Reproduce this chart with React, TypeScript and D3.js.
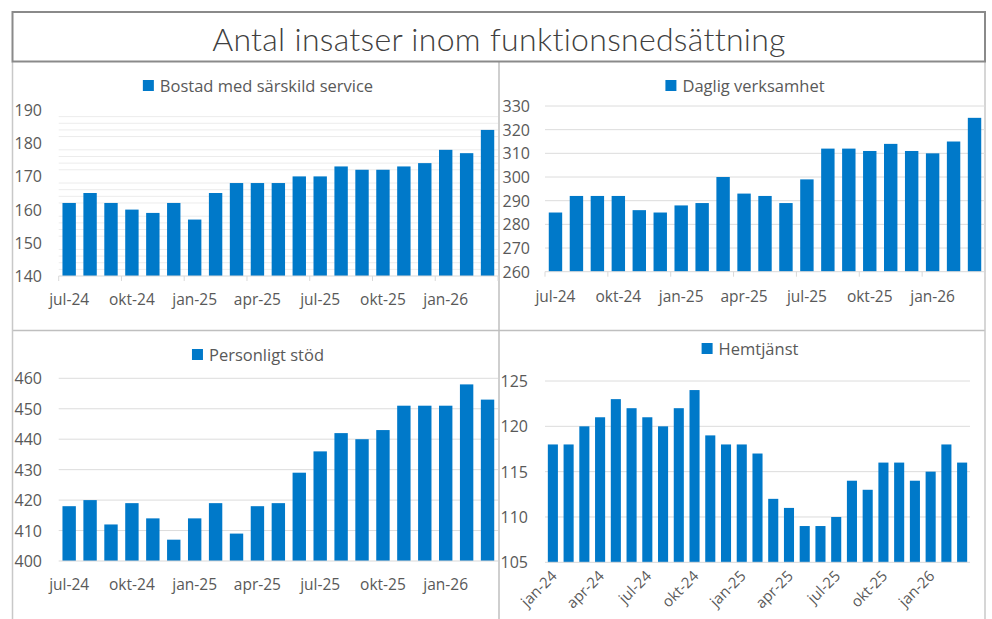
import React, { useEffect, useRef } from "react";
import * as d3 from "d3";

// månader
const monthsFromJul24 = [
  "jul-24", "aug-24", "sep-24", "okt-24", "nov-24", "dec-24",
  "jan-25", "feb-25", "mar-25", "apr-25", "maj-25", "jun-25",
  "jul-25", "aug-25", "sep-25", "okt-25", "nov-25", "dec-25",
  "jan-26", "feb-26", "mar-26",
];
const monthsFromJan24 = [
  "jan-24", "feb-24", "mar-24", "apr-24", "maj-24", "jun-24",
  ...monthsFromJul24,
];

const bostadValues = [162, 165, 162, 160, 159, 162, 157, 165, 168, 168, 168, 170, 170, 173, 172, 172, 173, 174, 178, 177, 184];
const dagligValues = [285, 292, 292, 292, 286, 285, 288, 289, 300, 293, 292, 289, 299, 312, 312, 311, 314, 311, 310, 315, 325];
const personligtValues = [418, 420, 412, 419, 414, 407, 414, 419, 409, 418, 419, 429, 436, 442, 440, 443, 451, 451, 451, 458, 453];
const hemtjanstValues = [118, 118, 120, 121, 123, 122, 121, 120, 122, 124, 119, 118, 118, 117, 112, 111, 109, 109, 110, 114, 113, 116, 116, 114, 115, 118, 116];

const bostadTicks = [140, 150, 160, 170, 180, 190];
const dagligTicks = [260, 270, 280, 290, 300, 310, 320, 330];
const personligtTicks = [400, 410, 420, 430, 440, 450, 460];
const hemtjanstTicks = [105, 110, 115, 120, 125];

const title = "Antal insatser inom funktionsnedsättning";
const BAR = "#0079c9";
const TXT = "#595959";

const panels = [
  {
    name: "Bostad med särskild service", values: bostadValues, cats: monthsFromJul24, ticks: bostadTicks,
    x0: 58.7, x1: 498, yTop: 110, yBottom: 276, labelRight: 42, legendCx: 258, legendY: 92,
    xLabelY: 305, rotate: false, tickMarks: true, minor: true,
  },
  {
    name: "Daglig verksamhet", values: dagligValues, cats: monthsFromJul24, ticks: dagligTicks,
    x0: 545, x1: 985, yTop: 106, yBottom: 271.7, labelRight: 530, legendCx: 745, legendY: 92,
    xLabelY: 302, rotate: false, tickMarks: true, minor: false,
  },
  {
    name: "Personligt stöd", values: personligtValues, cats: monthsFromJul24, ticks: personligtTicks,
    x0: 58.7, x1: 498, yTop: 378.3, yBottom: 561, labelRight: 42, legendCx: 258, legendY: 361,
    xLabelY: 590, rotate: false, tickMarks: false, minor: false,
  },
  {
    name: "Hemtjänst", values: hemtjanstValues, cats: monthsFromJan24, ticks: hemtjanstTicks,
    x0: 545, x1: 970, yTop: 381, yBottom: 562.3, labelRight: 528, legendCx: 750, legendY: 355,
    xLabelY: 577, rotate: true, tickMarks: false, minor: false,
  },
];

export default function App() {
  const svgRef = useRef<SVGSVGElement>(null);

  useEffect(() => {
    const svg = d3.select(svgRef.current);
    svg.selectAll("*").remove();

    // ramar
    const frame = svg.append("g").attr("fill", "none");
    frame.append("line").attr("x1", 499).attr("x2", 499).attr("y1", 62).attr("y2", 619)
      .attr("stroke", "#bfbfbf").attr("stroke-width", 1.5);
    frame.append("line").attr("x1", 12.5).attr("x2", 985).attr("y1", 330.5).attr("y2", 330.5)
      .attr("stroke", "#bfbfbf").attr("stroke-width", 1.5);
    frame.append("line").attr("x1", 12.5).attr("x2", 12.5).attr("y1", 62).attr("y2", 619)
      .attr("stroke", "#c8c8c8").attr("stroke-width", 1.5);
    frame.append("line").attr("x1", 985).attr("x2", 985).attr("y1", 62).attr("y2", 619)
      .attr("stroke", "#c8c8c8").attr("stroke-width", 1.5);
    frame.append("rect").attr("x", 12.5).attr("y", 12).attr("width", 972.5).attr("height", 49.5)
      .attr("stroke", "#8a8a8a").attr("stroke-width", 2).attr("fill", "#fff");

    svg.append("text").attr("x", 499).attr("y", 51).attr("text-anchor", "middle")
      .attr("font-family", "Lato").attr("font-weight", 300).attr("font-size", 32)
      .attr("letter-spacing", 0.3).attr("fill", "#404040")
      .text(title);

    panels.forEach((p) => {
      const g = svg.append("g").attr("font-family", "'Open Sans'");
      const x = d3.scaleBand<string>().domain(p.cats).range([p.x0, p.x1]).paddingInner(0.36).paddingOuter(0.18);
      const y = d3.scaleLinear()
        .domain([p.ticks[0], p.ticks[p.ticks.length - 1]])
        .range([p.yBottom, p.yTop]);
      const step = (p.x1 - p.x0) / p.cats.length;

      // gridlines
      if (p.minor) {
        d3.range(p.ticks[0] + 2, p.ticks[p.ticks.length - 1], 2)
          .filter((v) => v % 10 !== 0)
          .forEach((v) => {
            g.append("line").attr("x1", p.x0).attr("x2", p.x1)
              .attr("y1", y(v)).attr("y2", y(v)).attr("stroke", "#ececec");
          });
      } else {
        p.ticks.slice(1).forEach((v) => {
          g.append("line").attr("x1", p.x0).attr("x2", p.x1)
            .attr("y1", y(v)).attr("y2", y(v)).attr("stroke", "#dcdcdc");
        });
      }

      g.selectAll("rect.bar").data(p.values).join("rect")
        .attr("x", (_, i) => x(p.cats[i])!)
        .attr("width", x.bandwidth())
        .attr("y", (d) => y(d))
        .attr("height", (d) => p.yBottom - y(d))
        .attr("fill", BAR);

      // x-axel
      g.append("line").attr("x1", p.x0).attr("x2", p.x1)
        .attr("y1", p.yBottom).attr("y2", p.yBottom).attr("stroke", "#d9d9d9");
      if (p.tickMarks) {
        d3.range(0, p.cats.length + 1, 3).forEach((i) => {
          const tx = p.x0 + i * step;
          g.append("line").attr("x1", tx).attr("x2", tx)
            .attr("y1", p.yBottom).attr("y2", p.yBottom + 5).attr("stroke", "#d9d9d9");
        });
      }

      p.cats.forEach((c, i) => {
        if (i % 3 !== 0) return;
        const cx = x(c)! + x.bandwidth() / 2;
        if (p.rotate) {
          g.append("text").attr("text-anchor", "end")
            .attr("transform", `translate(${cx + 5},${p.xLabelY}) rotate(-45)`)
            .attr("font-size", 15).attr("fill", TXT).text(c);
        } else {
          g.append("text").attr("x", cx).attr("y", p.xLabelY).attr("text-anchor", "middle")
            .attr("font-size", 15.5).attr("fill", TXT).text(c);
        }
      });

      // y-etiketter
      p.ticks.forEach((v) => {
        g.append("text").attr("x", p.labelRight).attr("y", y(v) + 6).attr("text-anchor", "end")
          .attr("font-size", 16).attr("fill", TXT).text(v);
      });

      // legend
      const leg = g.append("g");
      const t = leg.append("text").attr("y", p.legendY).attr("font-size", 16.5).attr("fill", TXT).text(p.name);
      const w = (t.node() as SVGTextElement).getComputedTextLength();
      const total = 11 + 6 + w;
      const lx = p.legendCx - total / 2;
      leg.append("rect").attr("x", lx).attr("y", p.legendY - 12).attr("width", 11).attr("height", 11).attr("fill", BAR);
      t.attr("x", lx + 17);
    });
  }, []);

  return (
    <svg ref={svgRef} width={992} height={619}
      style={{ position: "absolute", left: 0, top: 0, background: "#fff" }} />
  );
}
